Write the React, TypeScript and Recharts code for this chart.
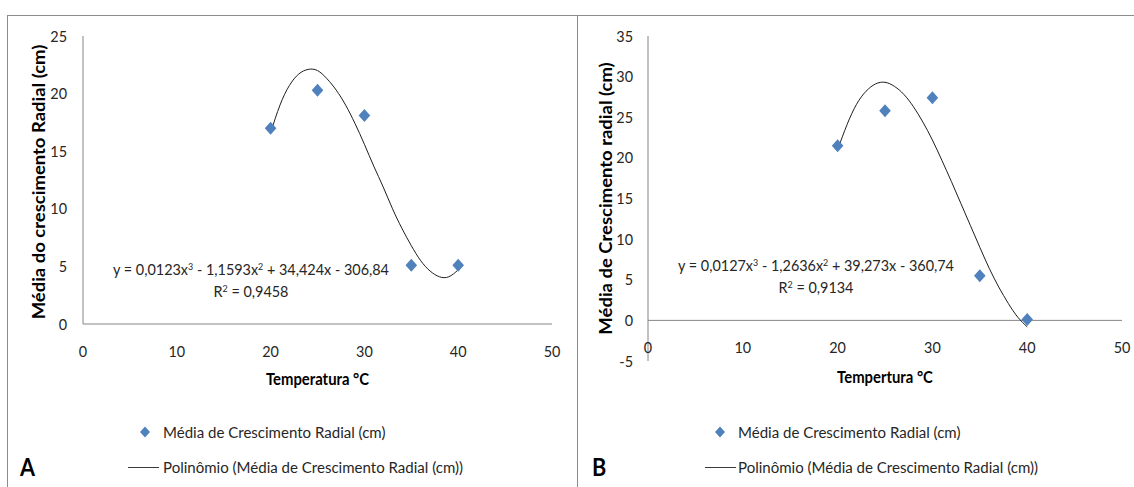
import React from 'react';
import { ComposedChart, Scatter, Line, XAxis, YAxis, ReferenceLine, Label } from 'recharts';

// ---------- data ----------
const temps = [20, 25, 30, 35, 40];
const growthA = [17.0, 20.3, 18.1, 5.1, 5.1];
const growthB = [21.5, 25.8, 27.4, 5.5, 0.1];

const trendTemps = [20, 21, 22, 23, 24, 25, 26, 27, 28, 29, 30, 31, 32, 33, 34, 35, 36, 37, 38, 39, 40];
const trendA = [16.6, 19.0, 20.7, 21.7, 22.1, 22.0, 21.3, 20.3, 19.0, 17.4, 15.6, 13.7, 11.9, 10.0, 8.3, 6.8, 5.5, 4.6, 4.1, 4.1, 4.7];
const trendB = [21.0, 24.1, 26.6, 28.2, 29.1, 29.3, 28.8, 27.8, 26.3, 24.4, 22.2, 19.7, 17.1, 14.4, 11.7, 9.0, 6.4, 4.1, 2.1, 0.4, -0.8];

const xTicks = [0, 10, 20, 30, 40, 50];
const yTicksA = [0, 5, 10, 15, 20, 25];
const yTicksB = [-5, 0, 5, 10, 15, 20, 25, 30, 35];

const seriesName = 'Média de Crescimento Radial (cm)';
const trendName = 'Polinômio (Média de Crescimento Radial (cm))';

// ---------- styles ----------
const FONT = "Lato, 'Open Sans', sans-serif";
const SX = 0.9; // horizontal squeeze of the reference picture
const BLUE = '#4F81BD';
const AXIS = '#868686';
const TEXT = '#262626';
const FRAME = '#8c8c8c';

const pointsA = temps.map((x, i) => ({ x, y: growthA[i] }));
const pointsB = temps.map((x, i) => ({ x, y: growthB[i] }));
const curveA = trendTemps.map((x, i) => ({ x, y: trendA[i] }));
const curveB = trendTemps.map((x, i) => ({ x, y: trendB[i] }));

const Diamond = (props: any) => {
  const { cx, cy } = props;
  if (cx == null || cy == null) return null;
  const hw = 5.8;
  const hh = 6.5;
  return (
    <polygon
      points={`${cx},${cy - hh} ${cx + hw},${cy} ${cx},${cy + hh} ${cx - hw},${cy}`}
      fill={BLUE}
    />
  );
};

const SText = ({
  x,
  y,
  anchor,
  size,
  weight = 400,
  s = SX,
  children,
}: {
  x: number;
  y: number;
  anchor: 'start' | 'middle' | 'end';
  size: number;
  weight?: number;
  s?: number;
  children: React.ReactNode;
}) => (
  <text
    transform={`translate(${x} ${y}) scale(${s} 1)`}
    x={0}
    y={0}
    dy="0.35em"
    textAnchor={anchor}
    fontSize={size}
    fontWeight={weight}
    fontFamily={FONT}
    fill={weight > 400 ? '#000' : TEXT}
  >
    {children}
  </text>
);

const makeXTick = (shift: number) => (props: any) => (
  <SText x={props.x} y={props.y + shift} anchor="middle" size={16}>
    {props.payload.value}
  </SText>
);

const yTick = (props: any) => (
  <SText x={props.x} y={props.y} anchor="end" size={16}>
    {props.payload.value}
  </SText>
);

const makeYTitle = (text: string, cx: number, dyc: number) => (p: any) => {
  const vb = p.viewBox || { y: 36, height: 288 };
  const cy = vb.y + vb.height / 2 + dyc;
  return (
    <text
      x={cx}
      y={cy}
      dy="0.35em"
      transform={`rotate(-90 ${cx} ${cy}) translate(${cx} ${cy}) scale(1.087 1) translate(${-cx} ${-cy})`}
      textAnchor="middle"
      fontSize={17}
      fontWeight={700}
      fontFamily={FONT}
      fill="#000"
    >
      {text}
    </text>
  );
};

const makeXTitle = (text: string, below: number) => (p: any) => {
  const vb = p.viewBox || { x: 0, y: 0, width: 0 };
  return (
    <SText x={vb.x + vb.width / 2} y={vb.y + below} anchor="middle" size={16.5} weight={700}>
      {text}
    </SText>
  );
};

const abs = (s: React.CSSProperties): React.CSSProperties => ({ position: 'absolute', ...s });

const EqLine = ({ cx, cy, children }: { cx: number; cy: number; children: React.ReactNode }) => (
  <div
    style={abs({
      left: cx - 200,
      top: cy - 11,
      width: 400,
      height: 22,
      lineHeight: '22px',
      textAlign: 'center',
      fontFamily: FONT,
      fontSize: 16,
      color: TEXT,
      whiteSpace: 'nowrap',
      transform: `scaleX(${SX})`,
      transformOrigin: 'center center',
    })}
  >
    {children}
  </div>
);

const Sup = ({ children }: { children: React.ReactNode }) => (
  <span style={{ fontSize: '0.62em', verticalAlign: '0.55em', lineHeight: 0 }}>{children}</span>
);

const LegendText = ({ left, cy, children }: { left: number; cy: number; children: React.ReactNode }) => (
  <div
    style={abs({
      left,
      top: cy - 11,
      height: 22,
      lineHeight: '22px',
      fontFamily: FONT,
      fontSize: 15.5,
      color: TEXT,
      whiteSpace: 'nowrap',
      transform: 'scaleX(0.97)',
      transformOrigin: 'left center',
    })}
  >
    {children}
  </div>
);

const LegendBlock = ({ dx, lx }: { dx: number; lx: number }) => (
  <>
    <svg style={abs({ left: dx - 7, top: 432 - 7, width: 14, height: 14 })}>
      <polygon points="7,1.5 12,7 7,12.5 2,7" fill={BLUE} />
    </svg>
    <LegendText left={dx + 18} cy={432}>
      {seriesName}
    </LegendText>
    <div style={abs({ left: lx, top: 467, width: 31, height: 1, background: '#3a3a3a' })} />
    <LegendText left={dx + 18} cy={467}>
      {trendName}
    </LegendText>
  </>
);

const PanelLetter = ({ x, text }: { x: number; text: string }) => (
  <div
    style={abs({
      left: x,
      top: 467 - 15,
      height: 30,
      lineHeight: '30px',
      fontFamily: FONT,
      fontWeight: 700,
      fontSize: 24,
      color: '#000',
      transform: `scaleX(${SX})`,
      transformOrigin: 'left center',
    })}
  >
    {text}
  </div>
);

export default function App() {
  return (
    <div
      style={abs({
        left: 0,
        top: 0,
        width: 1134,
        height: 487,
        background: '#fff',
        overflow: 'hidden',
      })}
    >
      {/* frames */}
      <div style={abs({ left: 7, top: 15, width: 1127, height: 1, background: FRAME })} />
      <div style={abs({ left: 7, top: 15, width: 1, height: 472, background: FRAME })} />
      <div style={abs({ left: 577, top: 15, width: 1, height: 472, background: FRAME })} />

      {/* chart A */}
      <div style={abs({ left: 0, top: 0 })}>
        <ComposedChart width={577} height={487} margin={{ top: 36, right: 25, bottom: 93, left: 0 }}>
          <XAxis
            type="number"
            dataKey="x"
            domain={[0, 50]}
            ticks={xTicks}
            interval={0}
            tickLine={false}
            tickSize={0}
            tickMargin={0}
            axisLine={{ stroke: AXIS }}
            tick={makeXTick(27)}
            height={70}
          >
            <Label content={makeXTitle('Temperatura °C', 55)} />
          </XAxis>
          <YAxis
            type="number"
            domain={[0, 25]}
            ticks={yTicksA}
            interval={0}
            tickLine={false}
            tickSize={0}
            tickMargin={16}
            axisLine={{ stroke: AXIS }}
            tick={yTick}
            width={83}
          >
            <Label content={makeYTitle('Média do crescimento Radial (cm)', 39, 2)} />
          </YAxis>
          <Line
            data={curveA}
            dataKey="y"
            type="natural"
            stroke="#1e1e1e"
            strokeWidth={1}
            dot={false}
            activeDot={false}
            isAnimationActive={false}
            name={trendName}
          />
          <Scatter
            data={pointsA}
            dataKey="y"
            shape={Diamond}
            isAnimationActive={false}
            name={seriesName}
          />
        </ComposedChart>
      </div>

      {/* chart B */}
      <div style={abs({ left: 577, top: 0 })}>
        <ComposedChart width={557} height={487} margin={{ top: 36, right: 12, bottom: 86, left: 0 }}>
          <XAxis
            type="number"
            dataKey="x"
            domain={[0, 50]}
            ticks={xTicks}
            interval={0}
            tickLine={false}
            tickSize={0}
            tickMargin={0}
            axisLine={false}
            tick={makeXTick(-14)}
            height={40}
          >
            <Label content={makeXTitle('Tempertura °C', 16)} />
          </XAxis>
          <YAxis
            type="number"
            domain={[-5, 35]}
            ticks={yTicksB}
            interval={0}
            tickLine={false}
            tickSize={0}
            tickMargin={15}
            axisLine={{ stroke: AXIS }}
            tick={yTick}
            width={71}
          >
            <Label content={makeYTitle('Média de Crescimento radial (cm)', 29, 0)} />
          </YAxis>
          <ReferenceLine y={0} stroke={AXIS} />
          <Line
            data={curveB}
            dataKey="y"
            type="natural"
            stroke="#1e1e1e"
            strokeWidth={1}
            dot={false}
            activeDot={false}
            isAnimationActive={false}
            name={trendName}
          />
          <Scatter
            data={pointsB}
            dataKey="y"
            shape={Diamond}
            isAnimationActive={false}
            name={seriesName}
          />
        </ComposedChart>
      </div>

      {/* trendline equations */}
      <EqLine cx={251} cy={269}>
        y = 0,0123x<Sup>3</Sup> - 1,1593x<Sup>2</Sup> + 34,424x - 306,84
      </EqLine>
      <EqLine cx={251} cy={291}>
        R<Sup>2</Sup> = 0,9458
      </EqLine>
      <EqLine cx={816} cy={265}>
        y = 0,0127x<Sup>3</Sup> - 1,2636x<Sup>2</Sup> + 39,273x - 360,74
      </EqLine>
      <EqLine cx={816} cy={287}>
        R<Sup>2</Sup> = 0,9134
      </EqLine>

      {/* legends */}
      <LegendBlock dx={145} lx={128} />
      <LegendBlock dx={720} lx={705} />

      <PanelLetter x={20} text="A" />
      <PanelLetter x={592} text="B" />
    </div>
  );
}
